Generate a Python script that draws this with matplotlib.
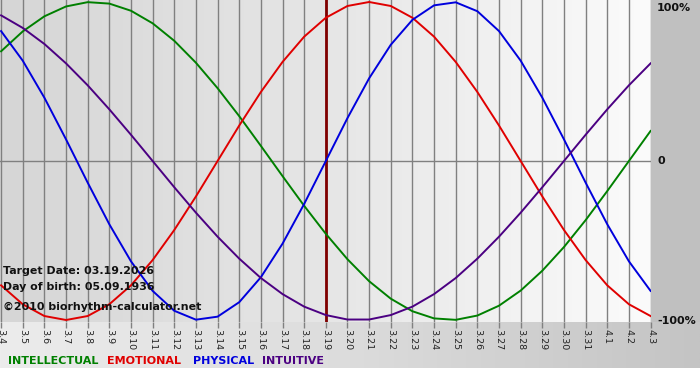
import numpy as np
import matplotlib
matplotlib.use("Agg")
import matplotlib.pyplot as plt
from matplotlib.colors import LinearSegmentedColormap

# ---- data ----
dates = ["3.4", "3.5", "3.6", "3.7", "3.8", "3.9", "3.10", "3.11", "3.12", "3.13",
         "3.14", "3.15", "3.16", "3.17", "3.18", "3.19", "3.20", "3.21", "3.22", "3.23",
         "3.24", "3.25", "3.26", "3.27", "3.28", "3.29", "3.30", "3.31", "4.1", "4.2", "4.3"]
physical = [0.817, 0.631, 0.398, 0.136, -0.136, -0.398, -0.631, -0.817, -0.942, -0.998,
            -0.979, -0.888, -0.731, -0.520, -0.270, 0.0, 0.270, 0.520, 0.731, 0.888,
            0.979, 0.998, 0.942, 0.817, 0.631, 0.398, 0.136, -0.136, -0.398, -0.631, -0.817]
emotional = [-0.782, -0.901, -0.975, -1.0, -0.975, -0.901, -0.782, -0.623, -0.434, -0.223,
             0.0, 0.223, 0.434, 0.623, 0.782, 0.901, 0.975, 1.0, 0.975, 0.901,
             0.782, 0.623, 0.434, 0.223, 0.0, -0.223, -0.434, -0.623, -0.782, -0.901, -0.975]
intellectual = [0.690, 0.815, 0.910, 0.972, 0.999, 0.990, 0.945, 0.866, 0.756, 0.618,
                0.458, 0.282, 0.095, -0.095, -0.282, -0.458, -0.618, -0.756, -0.866, -0.945,
                -0.990, -0.999, -0.972, -0.910, -0.815, -0.690, -0.541, -0.372, -0.189, 0.0, 0.189]
intuitive = [0.916, 0.837, 0.736, 0.614, 0.476, 0.325, 0.165, 0.0, -0.165, -0.325,
             -0.476, -0.614, -0.736, -0.837, -0.916, -0.969, -0.997, -0.997, -0.969, -0.916,
             -0.837, -0.736, -0.614, -0.476, -0.325, -0.165, 0.0, 0.165, 0.325, 0.476, 0.614]
target_index = 15  # 3.19
y_labels = ["100%", "0", "-100%"]

C_INT = "#008000"
C_EMO = "#e00000"
C_PHY = "#0000dd"
C_ITU = "#4b0082"

W, H = 700, 380
fig = plt.figure(figsize=(W / 100, H / 100), dpi=100, facecolor="white")

def fx(px):
    return px / W

def fy(py):
    return 1 - py / H

# background canvas
bg = fig.add_axes([0, 0, 1, 1], zorder=0)
bg.set_xlim(0, W)
bg.set_ylim(H, 0)
bg.axis("off")
bg.add_patch(plt.Rectangle((650, 0), 50, 368, color="#c0c0c0", lw=0))
band = np.linspace(0, 1, 256).reshape(1, -1)
cm_band = LinearSegmentedColormap.from_list("band", ["#ececec", "#dcdcdc", "#c4c4c4"])
bg.imshow(band, cmap=cm_band, extent=(0, 700, 368, 322), aspect="auto", zorder=1)

# main axes
ax = fig.add_axes([0, fy(322), fx(651), 322 / H], zorder=2)
n = len(dates)
x = np.arange(n)
ax.set_xlim(-0.05, n - 1 + 0.02)
ax.set_ylim(-1.0126, 1.0126)
cm_plot = LinearSegmentedColormap.from_list("plot", ["#d6d6d6", "#e6e6e6", "#fbfbfb"])
ax.imshow(band, cmap=cm_plot, extent=(-0.05, n - 1 + 0.02, -1.0126, 1.0126),
          aspect="auto", zorder=0)
for s in ax.spines.values():
    s.set_visible(False)

for xi in x:
    ax.axvline(xi, color="#808080", lw=1, zorder=1)
ax.axhline(0, color="#808080", lw=1, zorder=1)
ax.axvline(target_index, color="#800000", lw=2, zorder=2)

lw = 1.4
ax.plot(x, intellectual, color=C_INT, lw=lw, zorder=3)
ax.plot(x, emotional, color=C_EMO, lw=lw, zorder=3)
ax.plot(x, physical, color=C_PHY, lw=lw, zorder=3)
ax.plot(x, intuitive, color=C_ITU, lw=lw, zorder=3)

ax.set_xticks(x)
ax.set_xticklabels(dates, rotation=270, fontsize=6.8, color="#222222")
ax.tick_params(axis="x", length=4, width=1, color="#808080", pad=1)
ax.set_yticks([])

# right-side value labels
for lab, ypix in zip(y_labels, [8, 161, 321]):
    fig.text(fx(657), fy(ypix), lab, fontsize=8, fontweight="bold",
             color="#111111", ha="left", va="center")

# annotations
txt_kw = dict(fontsize=7.9, fontweight="bold", color="#111111", ha="left", va="center", zorder=5)
fig.text(fx(3), fy(271), "Target Date: 03.19.2026", **txt_kw)
fig.text(fx(3), fy(287), "Day of birth: 05.09.1936", **txt_kw)
fig.text(fx(3), fy(307), "\u00a92010 biorhythm-calculator.net", **txt_kw)

# legend text
leg_kw = dict(fontsize=8, fontweight="bold", ha="left", va="center")
fig.text(fx(8), fy(361), "INTELLECTUAL", color=C_INT, **leg_kw)
fig.text(fx(107), fy(361), "EMOTIONAL", color=C_EMO, **leg_kw)
fig.text(fx(193), fy(361), "PHYSICAL", color=C_PHY, **leg_kw)
fig.text(fx(262), fy(361), "INTUITIVE", color=C_ITU, **leg_kw)

fig.savefig("out.png", dpi=100, facecolor="white")
